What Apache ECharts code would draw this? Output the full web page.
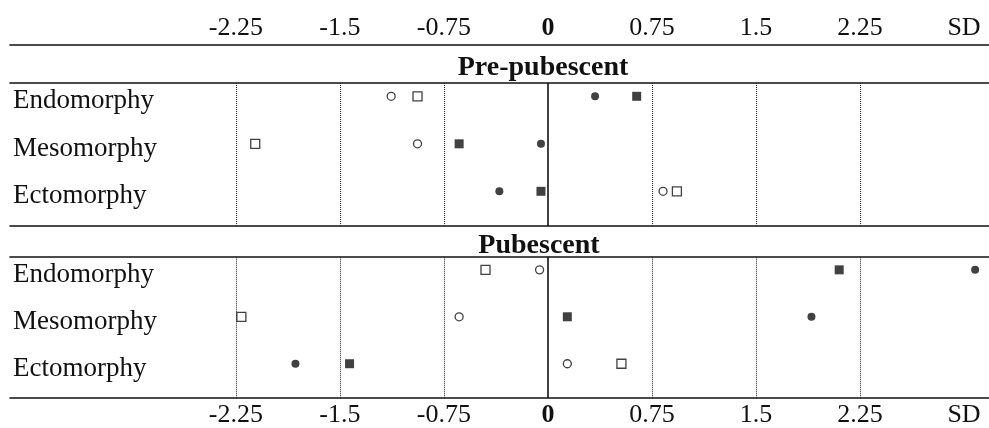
<!DOCTYPE html>
<html>
<head>
<meta charset="utf-8">
<script src="https://cdn.jsdelivr.net/npm/echarts@6/dist/echarts.min.js"></script>
<style>
  html, body { margin: 0; padding: 0; background: #fff; }
  #chart { width: 989px; height: 428px; }
</style>
</head>
<body>
<div id="chart"></div>
<script>
// somatotype components, top to bottom
var categories = ['Endomorphy', 'Mesomorphy', 'Ectomorphy'];
var tickValues = [-2.25, -1.5, -0.75, 0, 0.75, 1.5, 2.25, 3];
var gridValues = [-2.25, -1.5, -0.75, 0.75, 1.5, 2.25];

// pre-pubescent, SD scores (Endo, Meso, Ecto)
var preFilledCircle = [0.34, -0.05, -0.35];
var preFilledSquare = [0.64, -0.64, -0.05];
var preOpenCircle = [-1.13, -0.94, 0.83];
var preOpenSquare = [-0.94, -2.11, 0.93];

// pubescent, SD scores (Endo, Meso, Ecto)
var pubFilledCircle = [3.08, 1.90, -1.82];
var pubFilledSquare = [2.10, 0.14, -1.43];
var pubOpenCircle = [-0.06, -0.64, 0.14];
var pubOpenSquare = [-0.45, -2.21, 0.53];

var FONT = '"Liberation Serif", "Times New Roman", serif';
var INK = '#111';
var XMIN = -3.878, XMAX = 3.18;

function rows(values) {
  return values.map(function (v, i) { return [v, i + 1]; });
}

function tickLabel(v) {
  if (v === 3) return 'SD';
  if (v === 0) return '{b|0}';
  return String(v);
}

function xAxis(grid, position, offset, labels) {
  return {
    type: 'value', gridIndex: grid, position: position, offset: offset,
    min: XMIN, max: XMAX,
    axisLine: { show: true, lineStyle: { color: INK, width: 1.6 } },
    axisTick: { show: false },
    splitLine: { show: false },
    axisLabel: {
      show: labels, margin: 4, customValues: tickValues,
      formatter: tickLabel, color: INK, fontFamily: FONT, fontSize: 26,
      rich: { b: { fontFamily: FONT, fontSize: 26, fontWeight: 'bold', color: INK } }
    }
  };
}

function yAxis(grid) {
  return {
    type: 'value', gridIndex: grid, inverse: true, min: 0.72, max: 3.73,
    axisLine: { show: false }, axisTick: { show: false }, splitLine: { show: false },
    axisLabel: {
      inside: true, margin: 3, customValues: [1, 2, 3],
      formatter: function (v) { return categories[Math.round(v) - 1]; },
      color: INK, fontFamily: FONT, fontSize: 27,
      verticalAlign: 'top', lineHeight: 10
    }
  };
}

var gridLines = {
  silent: true, symbol: 'none', label: { show: false }, animation: false,
  data: gridValues.map(function (v) {
    return { xAxis: v, lineStyle: { color: '#222', width: 1, type: [1, 1] } };
  }).concat([{ xAxis: 0, lineStyle: { color: INK, width: 1.6, type: 'solid' } }])
};

function dots(name, data, xi, yi, shape, filled, withLines) {
  var s = {
    name: name, type: 'scatter', xAxisIndex: xi, yAxisIndex: yi,
    symbol: shape, symbolSize: shape === 'circle' ? 8 : 9,
    itemStyle: filled
      ? { color: INK }
      : { color: '#fff', borderColor: INK, borderWidth: 1.3 },
    z: 5,
    data: rows(data)
  };
  if (withLines) s.markLine = gridLines;
  return s;
}

var chart = echarts.init(document.getElementById('chart'));
chart.setOption({
  animation: false,
  backgroundColor: '#fff',
  title: [
    { text: 'Pre-pubescent', left: 543, top: 54, textAlign: 'center', padding: 0,
      textStyle: { fontFamily: FONT, fontSize: 28, fontWeight: 'bold', color: INK } },
    { text: 'Pubescent', left: 539, top: 232, textAlign: 'center', padding: 0,
      textStyle: { fontFamily: FONT, fontSize: 28, fontWeight: 'bold', color: INK } }
  ],
  grid: [
    { left: 10, right: 0, top: 83, height: 143 },
    { left: 10, right: 0, top: 256.7, height: 142.6 }
  ],
  xAxis: [
    xAxis(0, 'top', 38, true),
    xAxis(0, 'top', 0, false),
    xAxis(0, 'bottom', 0, false),
    xAxis(1, 'top', 0, false),
    xAxis(1, 'bottom', 0, true)
  ],
  yAxis: [yAxis(0), yAxis(1)],
  series: [
    dots('filled circle', preFilledCircle, 0, 0, 'circle', true, true),
    dots('filled square', preFilledSquare, 0, 0, 'rect', true, false),
    dots('open circle', preOpenCircle, 0, 0, 'circle', false, false),
    dots('open square', preOpenSquare, 0, 0, 'rect', false, false),
    dots('filled circle', pubFilledCircle, 3, 1, 'circle', true, true),
    dots('filled square', pubFilledSquare, 3, 1, 'rect', true, false),
    dots('open circle', pubOpenCircle, 3, 1, 'circle', false, false),
    dots('open square', pubOpenSquare, 3, 1, 'rect', false, false)
  ]
});
</script>
</body>
</html>
